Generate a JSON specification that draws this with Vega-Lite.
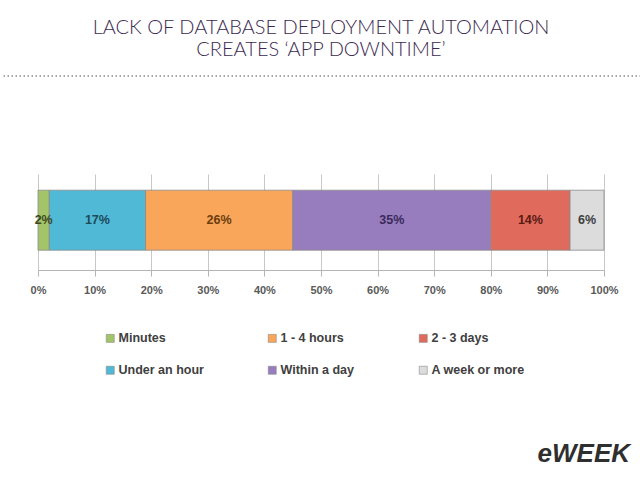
{
  "$schema": "https://vega.github.io/schema/vega-lite/v6.json",
  "background": "white",
  "padding": {"top": 18, "left": 0, "right": 0, "bottom": 0},
  "title": {
    "text": ["LACK OF DATABASE DEPLOYMENT AUTOMATION", "CREATES ‘APP DOWNTIME’"],
    "font": "Lato",
    "fontWeight": 300,
    "fontSize": 20,
    "lineHeight": 22,
    "color": "#3b2a4f",
    "anchor": "middle",
    "offset": 15
  },
  "config": {"view": {"stroke": null}},
  "spacing": 97,
  "center": true,
  "bounds": "flush",
  "vconcat": [
    {
      "width": 640,
      "height": 1,
      "data": {"values": [{"separator": "title rule"}]},
      "mark": {"type": "rule", "color": "#8c8c8c", "strokeDash": [1.5, 2.5], "strokeWidth": 1.3},
      "encoding": {"y": {"value": 0}}
    },
    {
      "width": 566,
      "height": 96,
      "title": {
        "text": "eWEEK",
        "orient": "bottom",
        "anchor": "end",
        "font": "Liberation Sans",
        "fontStyle": "italic",
        "fontWeight": "bold",
        "fontSize": 26,
        "color": "#2f2f2f",
        "offset": 64,
        "dx": 12
      },
      "data": {
        "values": [
          {"group": "Respondents", "duration": "Minutes", "share": 0.02, "rank": 1},
          {"group": "Respondents", "duration": "Under an hour", "share": 0.17, "rank": 2},
          {"group": "Respondents", "duration": "1 - 4 hours", "share": 0.26, "rank": 3},
          {"group": "Respondents", "duration": "Within a day", "share": 0.35, "rank": 4},
          {"group": "Respondents", "duration": "2 - 3 days", "share": 0.14, "rank": 5},
          {"group": "Respondents", "duration": "A week or more", "share": 0.06, "rank": 6}
        ]
      },
      "encoding": {
        "y": {
          "field": "group",
          "type": "nominal",
          "axis": null,
          "scale": {"paddingInner": 0, "paddingOuter": 0.3, "align": 0.45}
        },
        "x": {
          "field": "share",
          "type": "quantitative",
          "stack": "zero",
          "scale": {"domain": [0, 1], "nice": false},
          "axis": {
            "title": null,
            "values": [0, 0.1, 0.2, 0.3, 0.4, 0.5, 0.6, 0.7, 0.8, 0.9, 1],
            "format": ".0%",
            "grid": true,
            "gridColor": "#c8c8c8",
            "domainColor": "#b4b4b4",
            "tickColor": "#b4b4b4",
            "tickSize": 6,
            "labelFlush": false,
            "labelFont": "Liberation Sans",
            "labelFontWeight": "bold",
            "labelFontSize": 11,
            "labelColor": "#595959",
            "labelPadding": 8
          }
        },
        "order": {"field": "rank", "type": "quantitative"}
      },
      "layer": [
        {
          "mark": {"type": "bar", "stroke": "#8a8a8a", "strokeWidth": 0.8},
          "encoding": {
            "color": {
              "field": "duration",
              "type": "nominal",
              "scale": {
                "domain": ["Minutes", "Under an hour", "1 - 4 hours", "Within a day", "2 - 3 days", "A week or more"],
                "range": ["#a3c468", "#4fb9d6", "#f9a65a", "#977dbd", "#e06a5b", "#dcdcdc"]
              },
              "legend": {
                "title": null,
                "orient": "none",
                "legendX": 66,
                "legendY": 158,
                "columns": 3,
                "columnPadding": 62,
                "rowPadding": 19,
                "symbolType": "square",
                "symbolSize": 64,
                "symbolStrokeColor": "#8a8a8a",
                "symbolStrokeWidth": 0.6,
                "symbolOpacity": 1,
                "labelOffset": 2,
                "labelFont": "Liberation Sans",
                "labelFontWeight": "bold",
                "labelFontSize": 12.5,
                "labelColor": "#404040"
              }
            }
          }
        },
        {
          "mark": {"type": "text", "font": "Liberation Sans", "fontWeight": "bold", "fontSize": 12.5},
          "encoding": {
            "x": {"field": "share", "type": "quantitative", "stack": "zero", "bandPosition": 0.5},
            "text": {"field": "share", "type": "quantitative", "format": ".0%"},
            "color": {
              "field": "duration",
              "type": "nominal",
              "scale": {
                "domain": ["Minutes", "Under an hour", "1 - 4 hours", "Within a day", "2 - 3 days", "A week or more"],
                "range": ["#3b4a1e", "#1e4a5a", "#6b3d10", "#3a2a5c", "#5a1a14", "#404040"]
              },
              "legend": null
            }
          }
        }
      ],
      "resolve": {"scale": {"color": "independent"}}
    }
  ]
}
